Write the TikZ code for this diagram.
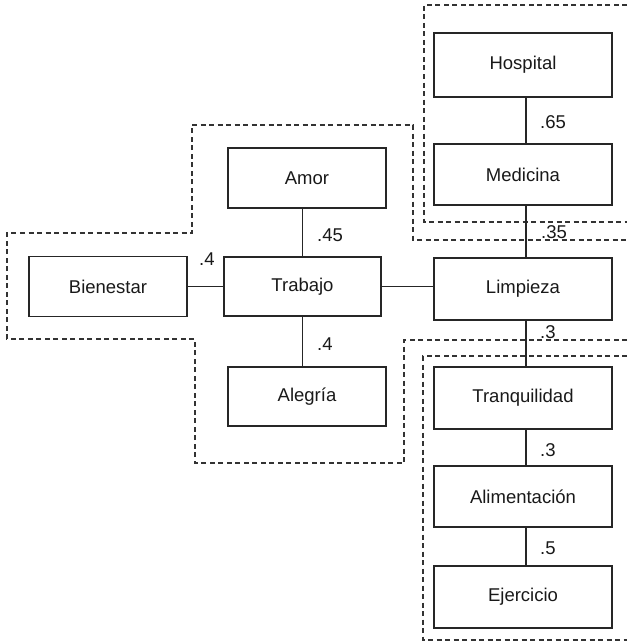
\documentclass[tikz,border=0pt]{standalone}
\usepackage{fontspec}
\setmainfont{Liberation Sans}
\begin{document}
\begin{tikzpicture}[x=1pt,y=-1pt,
  every node/.style={font=\fontsize{18.5}{21}\selectfont, text=black!90},
  box/.style={draw=black!85, line width=1.2pt, inner sep=0pt, minimum width=178pt, minimum height=62pt},
  sbox/.style={box, minimum width=158pt, minimum height=60pt},
  mainbox/.style={sbox, line width=2.8pt, minimum width=157pt, minimum height=59pt},
  conn/.style={draw=black!85, line width=1.2pt},
  grp/.style={draw=black!80, line width=1.2pt, dash pattern=on 5pt off 3.5pt},
  lbl/.style={anchor=base west, inner sep=0pt}]
\useasboundingbox (0,0) rectangle (627,642);

% groups
\draw[grp] (192,125) -- (413,125) -- (413,240) -- (627,240);
\draw[grp] (627,340) -- (404,340) -- (404,463) -- (195,463) -- (195,339) -- (7,339) -- (7,233) -- (192,233) -- (192,125);
\draw[grp] (627,5) -- (424,5) -- (424,222) -- (627,222);
\draw[grp] (627,356) -- (423,356) -- (423,640) -- (627,640);

% right column
\node[box, minimum height=64pt] (hosp) at (523,65) {Hospital};
\node[box, minimum height=61pt] (med) at (523,174.5) {Medicina};
\node[box] (limp) at (523,289) {Limpieza};
\node[box] (tranq) at (523,398) {Tranquilidad};
\node[box, minimum height=61pt] (alim) at (523,496.5) {Alimentación};
\node[box] (ejer) at (523,597) {Ejercicio};

% left cluster
\node[sbox] (amor) at (307,178) {Amor};
\node[mainbox] (trab) at (302.5,286.5) {Trabajo};
\node[sbox] (bien) at (108,286.5) {Bienestar};
\node[sbox, minimum height=59pt] (aleg) at (307,396.5) {Alegría};

% connectors
\draw[conn] ([xshift=3pt]hosp.south) -- ([xshift=3pt]med.north);
\draw[conn] ([xshift=3pt]med.south) -- ([xshift=3pt]limp.north);
\draw[conn] ([xshift=3pt]limp.south) -- ([xshift=3pt]tranq.north);
\draw[conn] ([xshift=3pt]tranq.south) -- ([xshift=3pt]alim.north);
\draw[conn] ([xshift=3pt]alim.south) -- ([xshift=3pt]ejer.north);
\draw[conn] (trab.north) -- (trab.north |- amor.south);
\draw[conn] (trab.south) -- (trab.south |- aleg.north);
\draw[conn] (trab.west) -- (trab.west -| bien.east);
\draw[conn] (trab.east) -- (trab.east -| limp.west);

% labels
\node[lbl] (l1) at (540,128) {.65};
\node[lbl] (l2) at (541,238) {.35};
\node[lbl] (l3) at (540,338) {.3};
\node[lbl] (l4) at (540,456) {.3};
\node[lbl] (l5) at (540,554) {.5};
\node[lbl] (l6) at (317,241) {.45};
\node[lbl] (l7) at (317,350) {.4};
\node[lbl] (l8) at (199,265) {.4};
\end{tikzpicture}
\end{document}
